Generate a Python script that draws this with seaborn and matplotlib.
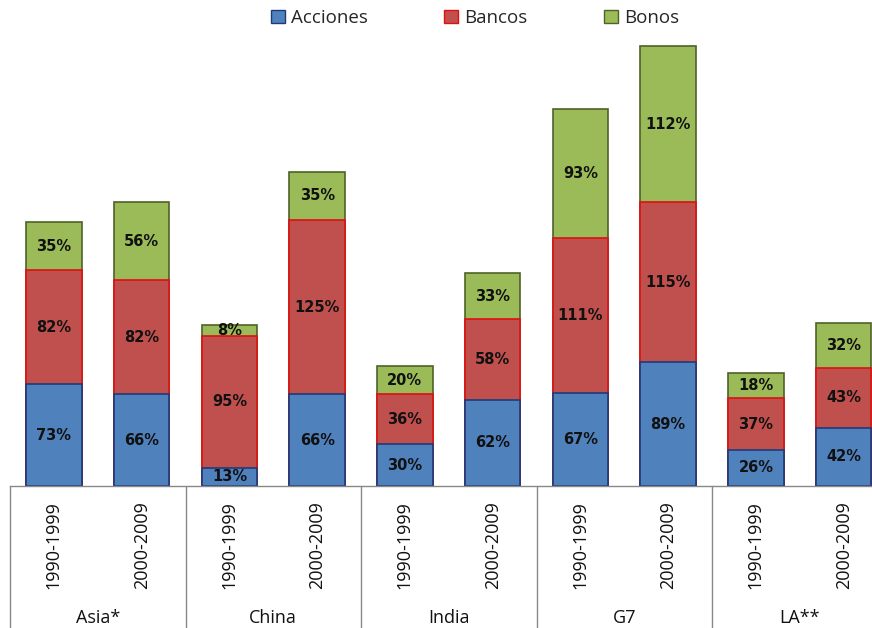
import matplotlib
matplotlib.use("Agg")
import matplotlib.pyplot as plt
import seaborn as sns
import pandas as pd
import numpy as np
from matplotlib.patches import Patch

groups = ["Asia*", "China", "India", "G7", "LA**"]
periods = ["1990-1999", "2000-2009"]
acciones = [73, 66, 13, 66, 30, 62, 67, 89, 26, 42]
bancos = [82, 82, 95, 125, 36, 58, 111, 115, 37, 43]
bonos = [35, 56, 8, 35, 20, 33, 93, 112, 18, 32]

sns.set_theme(style="white")
plt.rcParams['font.family'] = ['Open Sans', 'DejaVu Sans']

labels = [f"{g}|{p}" for g in groups for p in periods]
df = pd.DataFrame({"bar": labels, "acc": acciones, "ban": bancos, "bon": bonos})
df["acc_ban"] = df["acc"] + df["ban"]
df["total"] = df["acc_ban"] + df["bon"]

W, H = 872, 628
fig = plt.figure(figsize=(W / 100, H / 100), dpi=100)
base_px = 486
top_px = 27
ymax = 330
ax = fig.add_axes([10 / W, (H - base_px) / H, 877.5 / W, (base_px - top_px) / H])

blue, blue_e = "#4F81BD", "#1F3A7A"
red, red_e = "#C0504D", "#E01010"
green, green_e = "#9BBB59", "#4F6228"
bw = 0.63

sns.barplot(data=df, x="bar", y="total", color=green, edgecolor=green_e, linewidth=1.2,
            width=bw, saturation=1, ax=ax, order=labels)
sns.barplot(data=df, x="bar", y="acc_ban", color=red, edgecolor=red_e, linewidth=1.2,
            width=bw, saturation=1, ax=ax, order=labels)
sns.barplot(data=df, x="bar", y="acc", color=blue, edgecolor=blue_e, linewidth=1.2,
            width=bw, saturation=1, ax=ax, order=labels)

ax.set_xlim(-0.5, 9.5)
ax.set_ylim(0, ymax)
ax.set_yticks([])
ax.set_ylabel("")
ax.set_xlabel("")
for s in ["top", "right", "left"]:
    ax.spines[s].set_visible(False)
ax.spines["bottom"].set_color("#888888")
ax.spines["bottom"].set_linewidth(1.0)

# segment labels
for i, r in df.iterrows():
    for lo, val in [(0, r["acc"]), (r["acc"], r["ban"]), (r["acc_ban"], r["bon"])]:
        ax.text(i, lo + val / 2, f"{val}%", ha="center", va="center",
                fontsize=10.5, fontweight="bold", color="#111111", family="DejaVu Sans")

# period tick labels
ax.set_xticks(range(len(labels)))
ax.set_xticklabels([l.split("|")[1] for l in labels], rotation=90, fontsize=13, color="#111111")
ax.tick_params(axis="x", length=0, pad=11)

ah = base_px - top_px
xt = ax.get_xaxis_transform()
for gi, g in enumerate(groups):
    ax.text(gi * 2 + 0.5, -(618 - base_px) / ah, g, transform=xt, ha="center", va="center",
            fontsize=13, color="#111111")
for xs in [-0.5, 1.5, 3.5, 5.5, 7.5, 9.5]:
    ax.plot([xs, xs], [0, -(H - base_px) / ah], transform=xt, color="#888888",
            lw=1.0, clip_on=False)

handles = [Patch(facecolor=blue, edgecolor=blue_e, label="Acciones"),
           Patch(facecolor=red, edgecolor=red_e, label="Bancos"),
           Patch(facecolor=green, edgecolor=green_e, label="Bonos")]
fig.legend(handles=handles, loc="center", bbox_to_anchor=(475 / W, 1 - 18 / H), ncol=3,
           frameon=False, fontsize=13.5, handlelength=0.75, handleheight=0.75,
           handletextpad=0.3, columnspacing=4.1)

fig.savefig("out.png", dpi=100)
